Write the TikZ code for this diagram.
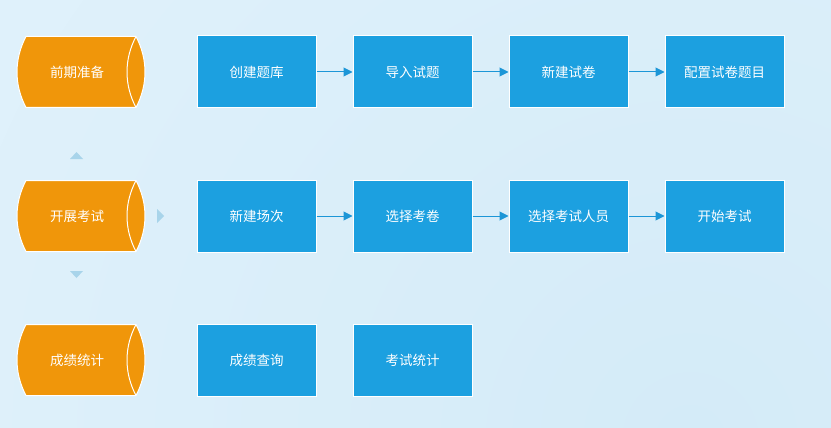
\documentclass[tikz,border=0pt]{standalone}
\usepackage{fontspec}
\newfontfamily\cjk{Noto Sans CJK SC}
\usetikzlibrary{arrows.meta}
\definecolor{bgA}{RGB}{233,246,253}
\definecolor{bgB}{RGB}{212,235,248}
\definecolor{boxblue}{RGB}{28,160,224}
\definecolor{orangefill}{RGB}{240,150,10}
\definecolor{tri}{RGB}{168,212,234}
\definecolor{arrowblue}{RGB}{28,150,215}
\tikzset{
  bluebox/.style={draw=white, line width=1pt, fill=boxblue, minimum width=119pt, minimum height=72pt, inner sep=0pt, text=white, font=\cjk\fontsize{13.5}{15}\selectfont},
  orangetext/.style={inner sep=0pt, text=white, font=\cjk\fontsize{13.5}{15}\selectfont},
  cyl/.style={fill=orangefill, draw=white, line width=1pt},
  flow/.style={draw=arrowblue, line width=1pt, -{Triangle[length=9pt,width=9pt]}},
  marker/.style={fill=tri, draw=none}
}
\newcommand{\cylshape}[1]{%
  \path[cyl] (26,#1-35.5) -- (136,#1-35.5)
     .. controls (148,#1-12.85) and (148,#1+12.85) .. (136,#1+35.5)
     -- (26,#1+35.5)
     .. controls (14,#1+12.85) and (14,#1-12.85) .. (26,#1-35.5) -- cycle;
  \draw[white, line width=1pt] (136,#1-35.5) .. controls (124,#1-12.85) and (124,#1+12.85) .. (136,#1+35.5);
}
\begin{document}
\begin{tikzpicture}[x=1pt,y=-1pt]
\useasboundingbox (0,0) rectangle (831,428);
\begin{scope}
\clip (0,0) rectangle (831,428);
\fill[bgA] (0,0) rectangle (831,428);
\shade[inner color=bgB, outer color=bgA] (690,440) circle (1500);
\end{scope}

% orange cylinders
\cylshape{72}
\cylshape{216}
\cylshape{360}
\node[orangetext] (o1) at (77,72) {前期准备};
\node[orangetext] (o2) at (77,216) {开展考试};
\node[orangetext] (o3) at (77,360) {成绩统计};

% markers
\path[marker] (70,159) -- (83,159) -- (76.5,152) -- cycle;
\path[marker] (157,209) -- (164,216) -- (157,223) -- cycle;
\path[marker] (70,271) -- (83,271) -- (76.5,278) -- cycle;

% row 1
\node[bluebox] (a1) at (256.5,72) {创建题库};
\node[bluebox] (a2) at (412.5,72) {导入试题};
\node[bluebox] (a3) at (568.5,72) {新建试卷};
\node[bluebox] (a4) at (724.5,72) {配置试卷题目};
% row 2
\node[bluebox] (b1) at (256.5,216) {新建场次};
\node[bluebox] (b2) at (412.5,216) {选择考卷};
\node[bluebox] (b3) at (568.5,216) {选择考试人员};
\node[bluebox] (b4) at (724.5,216) {开始考试};
% row 3
\node[bluebox] (c1) at (256.5,360) {成绩查询};
\node[bluebox] (c2) at (412.5,360) {考试统计};

\draw[flow] (a1) -- (a2);
\draw[flow] (a2) -- (a3);
\draw[flow] (a3) -- (a4);
\draw[flow] (b1) -- (b2);
\draw[flow] (b2) -- (b3);
\draw[flow] (b3) -- (b4);
\end{tikzpicture}
\end{document}
